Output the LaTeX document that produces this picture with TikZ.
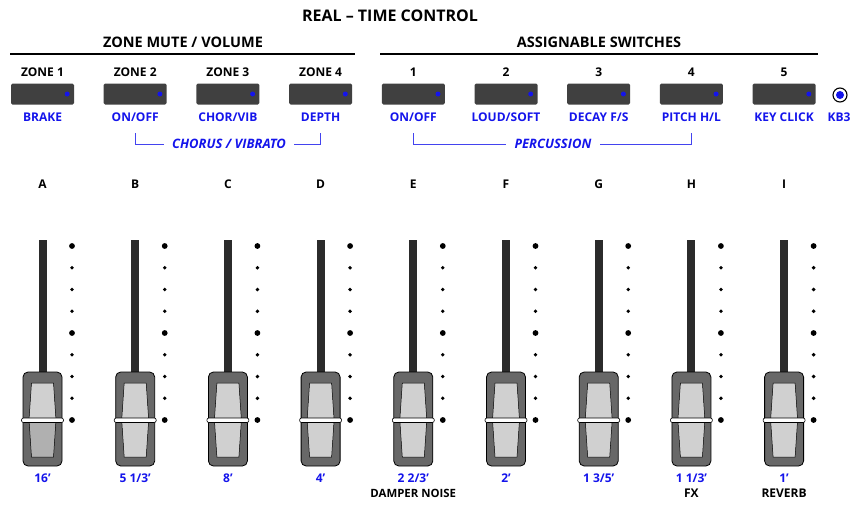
\documentclass[tikz,border=0pt]{standalone}
\usepackage{fontspec}
\setmainfont{Open Sans}
\usetikzlibrary{positioning}
\definecolor{keyblue}{RGB}{20,20,235}
\definecolor{btngray}{RGB}{64,64,64}
\definecolor{trackgray}{RGB}{43,43,43}
\definecolor{capgray}{RGB}{104,104,104}
\definecolor{caplight}{RGB}{208,208,208}
\definecolor{capdark}{RGB}{176,176,176}
\tikzset{
  lbl/.style={font=\bfseries\fontsize{12}{14}\selectfont, inner sep=0pt},
  bluelbl/.style={lbl, text=keyblue},
  sect/.style={font=\bfseries\fontsize{14.5}{17}\selectfont, inner sep=0pt},
  head/.style={font=\bfseries\fontsize{16}{19}\selectfont, inner sep=0pt},
  brk/.style={bluelbl, font=\bfseries\itshape\fontsize{13}{15}\selectfont, inner xsep=8pt},
  brkline/.style={keyblue!80, line width=0.8pt},
  rule/.style={line width=2pt},
  switch/.style={fill=btngray, rounded corners=1.5pt, minimum width=63pt, minimum height=21pt, inner sep=0pt}
}
\begin{document}
\begin{tikzpicture}[x=1pt,y=-1pt]
\useasboundingbox (0,0) rectangle (852,504);
\node (title) [head] at (390,16) {REAL – TIME CONTROL};
\node (zmv) [sect] at (183,42) {ZONE MUTE / VOLUME};
\node (asw) [sect] at (599,42) {ASSIGNABLE SWITCHES};
\draw[rule] (10,54) -- (355,54);
\draw[rule] (380,54) -- (818,54);

% switches row
\foreach \hd/\fn [count=\i] in {ZONE 1/BRAKE, ZONE 2/{ON/OFF}, ZONE 3/{CHOR/VIB}, ZONE 4/DEPTH,
  1/{ON/OFF}, 2/{LOUD/SOFT}, 3/{DECAY F/S}, 4/{PITCH H/L}, 5/KEY CLICK}
{
    \pgfmathsetmacro\x{42.5+92.7*(\i-1)}
    \node (num\i) [lbl] at (\x,72) {\hd};
    \node (sw\i) [switch] at (\x,94) {};
    \fill[keyblue] ([xshift=-7pt]sw\i.east) circle (2.5pt);
    \node (fn\i) [bluelbl] at (\x,117) {\fn};
}
\node (kb3) [circle, draw, fill=white, line width=1.1pt, minimum size=14pt, inner sep=0pt] at (840,95) {};
\fill[keyblue] (kb3) circle (4pt);
\node (kb3lbl) [bluelbl] at (839,117) {KB3};

% brackets
\node (chorus) [brk] at (229,144) {CHORUS / VIBRATO};
\draw[brkline] (fn2 |- 0,133) |- (chorus.west);
\draw[brkline] (fn4 |- 0,133) |- (chorus.east);
\node (perc) [brk] at (553,144) {PERCUSSION};
\draw[brkline] (fn5 |- 0,133) |- (perc.west);
\draw[brkline] (fn8 |- 0,133) |- (perc.east);

% drawbars
\foreach \ltr/\ft/\low [count=\i] in {A/16’/capdark, B/{5 1/3’}/caplight, C/8’/caplight, D/4’/caplight,
  E/{2 2/3’}/caplight, F/2’/caplight, G/{1 3/5’}/caplight, H/{1 1/3’}/caplight, I/1’/caplight}
{
    \pgfmathsetmacro\x{42.5+92.7*(\i-1)}
    \node (bar\i) [lbl] at (\x,184) {\ltr};
    \fill[trackgray] (\x-4,240) rectangle (\x+4,380);
    \filldraw[fill=capgray, draw=black, line width=0.8pt, rounded corners=5pt] (\x-19.5,372) rectangle (\x+19.5,466);
    \filldraw[fill=caplight, draw=black, line width=0.5pt] (\x-13.5,420) -- (\x-11,383) -- (\x+11,383) -- (\x+13.5,420) -- cycle;
    \filldraw[fill=\low, draw=black, line width=0.5pt] (\x-13.5,420) -- (\x-11,457) -- (\x+11,457) -- (\x+13.5,420) -- cycle;
    \filldraw[fill=white, draw=black, line width=0.6pt, rounded corners=2pt] (\x-21,418) rectangle (\x+21,422.5);
    \foreach \k in {0,...,8}
    {
        \pgfmathsetmacro\r{mod(\k,4)==0 ? 2.9 : 1.9}
        \fill (\x+29.5,246+21.75*\k) circle (\r pt);
    }
    \node (ft\i) [bluelbl] at (\x,478) {\ft};
}
\node (damper) [lbl, font=\bfseries\fontsize{11.4}{14}\selectfont] at (ft5 |- 0,493) {DAMPER NOISE};
\node (fx) [lbl] at (ft8 |- 0,493) {FX};
\node (reverb) [lbl] at (ft9 |- 0,493) {REVERB};

\end{tikzpicture}
\end{document}
